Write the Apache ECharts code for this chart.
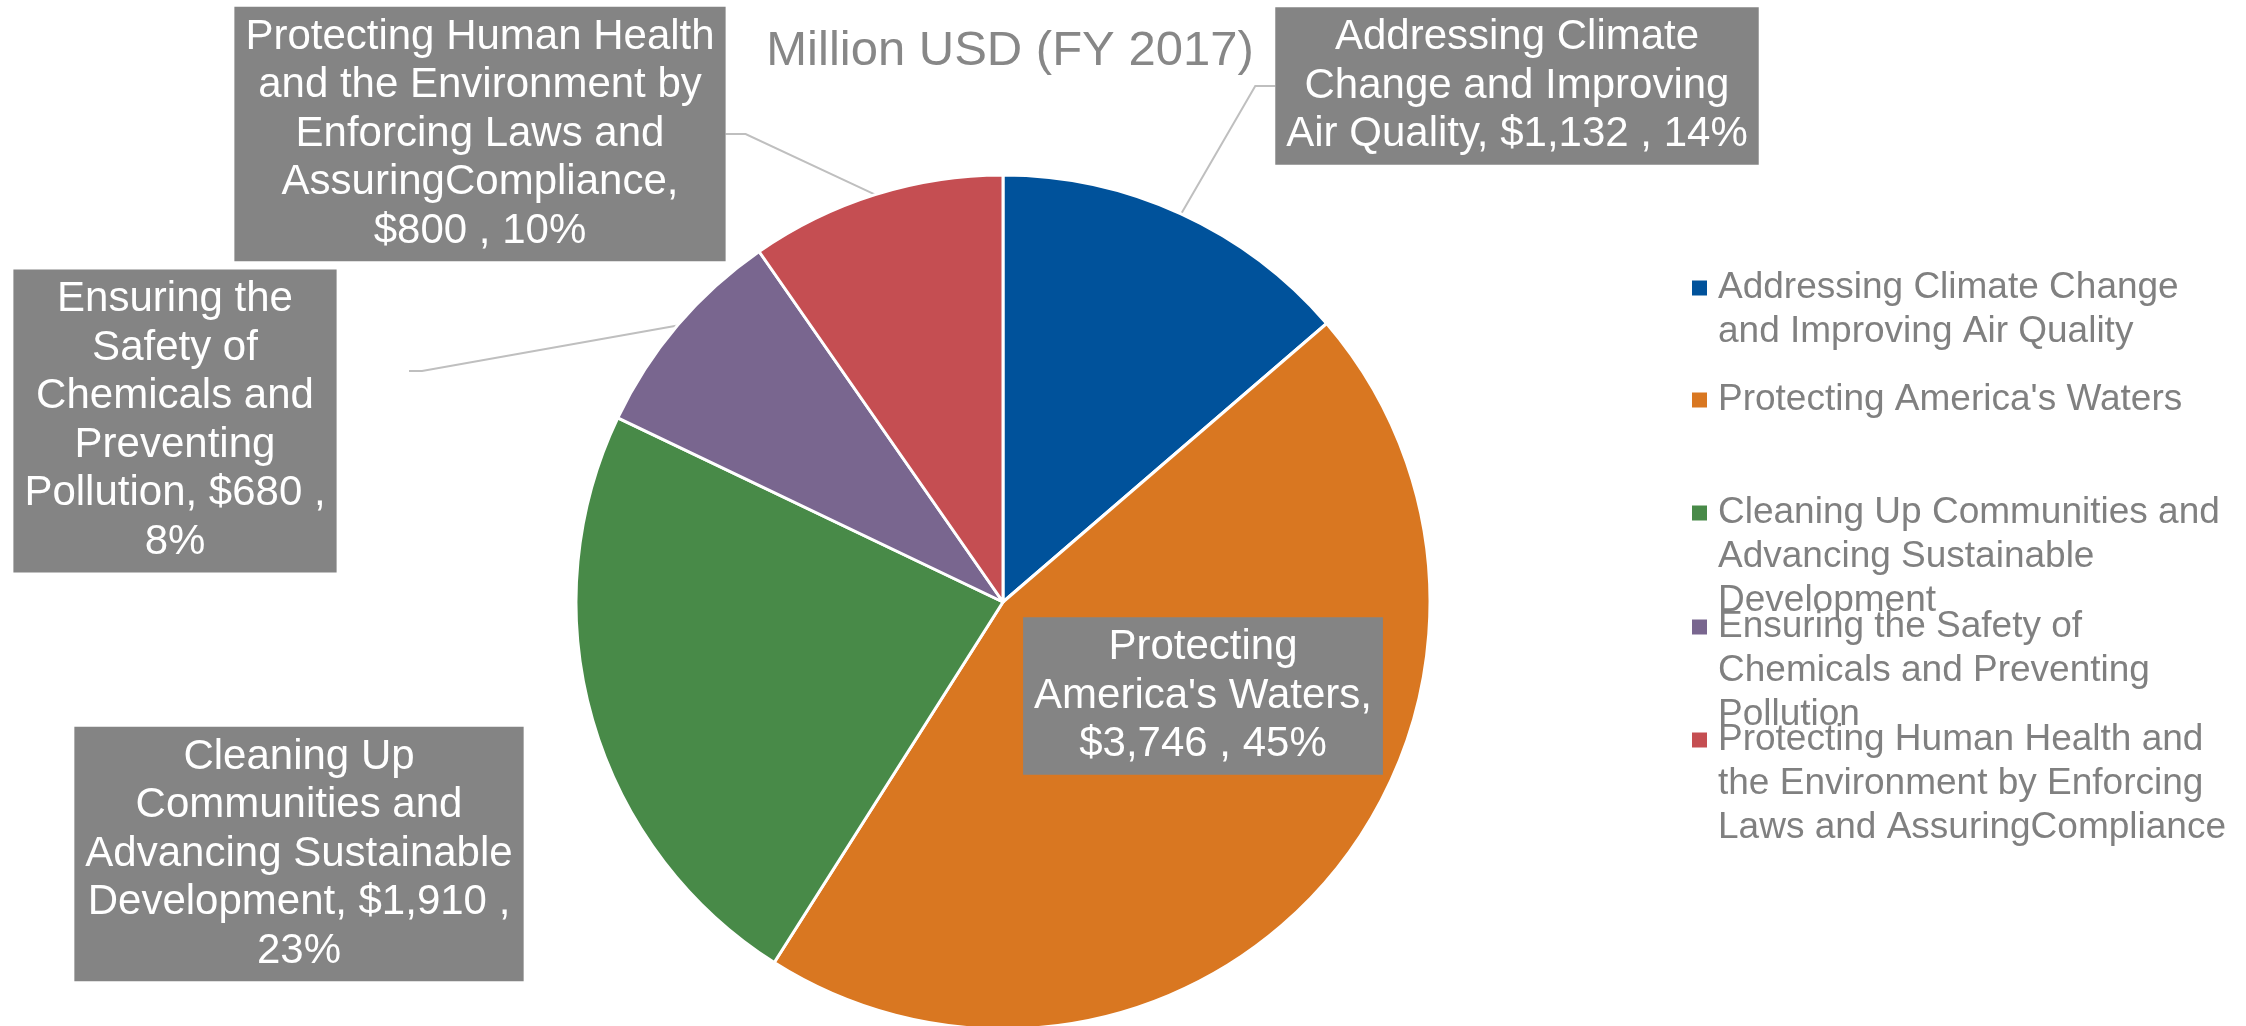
<!DOCTYPE html>
<html>
<head>
<meta charset="utf-8">
<title>Million USD (FY 2017)</title>
<script src="https://cdn.jsdelivr.net/npm/echarts@6/dist/echarts.min.js"></script>
<style>
  html, body { margin: 0; padding: 0; background: #ffffff; }
  #chart { width: 2246px; height: 1026px; }
</style>
</head>
<body>
<div id="chart"></div>
<script>
// EPA budget by strategic goal, FY 2017 (million USD)
const chartTitle = 'Million USD (FY 2017)';

const categories = [
  'Addressing Climate Change and Improving Air Quality',
  "Protecting America's Waters",
  'Cleaning Up Communities and Advancing Sustainable Development',
  'Ensuring the Safety of Chemicals and Preventing Pollution',
  'Protecting Human Health and the Environment by Enforcing Laws and AssuringCompliance'
];

const values = [1132, 3746, 1910, 680, 800];

// Wrapped text for the legend entries
const legendText = [
  'Addressing Climate Change\nand Improving Air Quality',
  "Protecting America's Waters",
  'Cleaning Up Communities and\nAdvancing Sustainable\nDevelopment',
  'Ensuring the Safety of\nChemicals and Preventing\nPollution',
  'Protecting Human Health and\nthe Environment by Enforcing\nLaws and AssuringCompliance'
];

// Wrapped data-label text; {v} = value, {p} = percent
const labelText = [
  'Addressing Climate\nChange and Improving\nAir Quality, {v} , {p}',
  "Protecting\nAmerica's Waters,\n{v} , {p}",
  'Cleaning Up\nCommunities and\nAdvancing Sustainable\nDevelopment, {v} ,\n{p}',
  'Ensuring the\nSafety of\nChemicals and\nPreventing\nPollution, {v} ,\n{p}',
  'Protecting Human Health\nand the Environment by\nEnforcing Laws and\nAssuringCompliance,\n{v} , {p}'
];

const colors = ['#00529B', '#D97721', '#488A48', '#79668F', '#C54E52'];

const FONT = "'Liberation Sans', Arial, Helvetica, sans-serif";

const chart = echarts.init(document.getElementById('chart'), null, { renderer: 'canvas' });

// label box centres, in pixels
const labelCenters = [
  [1517, 86],
  [1203, 696],
  [299, 854],
  [175, 421],
  [480, 134]
];

// One legend per entry so each first line sits at an even pitch.
// The legend text is centred on its marker, so blank lines are put in
// front of multi-line entries to bring the first line level with the marker.
const LEGEND_LINE = 44;
const legendFirstLine = [288, 400, 513, 627, 740];
const legends = categories.map((name, i) => {
  const n = legendText[i].split('\n').length;
  return {
    data: [{ name: name, icon: 'rect' }],
    left: 1692,
    top: legendFirstLine[i] - (2 * n - 1) * LEGEND_LINE / 2,
    padding: 0,
    itemWidth: 15,
    itemHeight: 15,
    itemStyle: { borderWidth: 0 },
    selectedMode: false,
    formatter: () => '\n'.repeat(n - 1) + legendText[i],
    textStyle: {
      fontFamily: FONT,
      fontSize: 37,
      lineHeight: LEGEND_LINE,
      color: '#808080',
      padding: [0, 0, 0, 6]
    }
  };
});

const seriesData = categories.map((name, i) => ({
  name: name,
  value: values[i],
  label: { position: i === 1 ? 'inside' : 'outside' },
  labelLine: { show: i === 0 || i === 3 || i === 4 }
}));

chart.setOption({
  animation: false,
  backgroundColor: '#ffffff',
  color: colors,
  title: {
    text: chartTitle,
    left: 1005,
    textAlign: 'center',
    top: 22,
    textStyle: {
      fontFamily: FONT,
      fontSize: 49,
      fontWeight: 'normal',
      color: '#878787'
    }
  },
  legend: legends,
  series: [{
    type: 'pie',
    center: [1003, 602],
    radius: 427,
    startAngle: 90,
    clockwise: true,
    avoidLabelOverlap: false,
    percentPrecision: 0,
    data: seriesData,
    itemStyle: { borderColor: '#ffffff', borderWidth: 3 },
    emphasis: { disabled: true },
    label: {
      show: true,
      fontFamily: FONT,
      fontSize: 42,
      lineHeight: 48.5,
      color: '#ffffff',
      backgroundColor: '#848484',
      padding: [6, 11, 6, 11],
      align: 'center',
      formatter: (p) => labelText[p.dataIndex]
        .replace('{v}', '$' + p.value.toLocaleString('en-US'))
        .replace('{p}', p.percent + '%')
    },
    labelLine: {
      show: true,
      length: 20,
      length2: 20,
      lineStyle: { color: '#BFBFBF', width: 2 }
    },
    labelLayout: (params) => {
      const c = labelCenters[params.dataIndex];
      const out = { x: c[0], y: c[1], align: 'center', verticalAlign: 'middle' };
      // the chemicals leader stops short of its box, with a short flat tail
      if (params.dataIndex === 3 && params.labelLinePoints) {
        const edge = params.labelLinePoints[0];
        out.labelLinePoints = [edge, [422, 371], [409, 371]];
      }
      return out;
    }
  }]
});
</script>
</body>
</html>
